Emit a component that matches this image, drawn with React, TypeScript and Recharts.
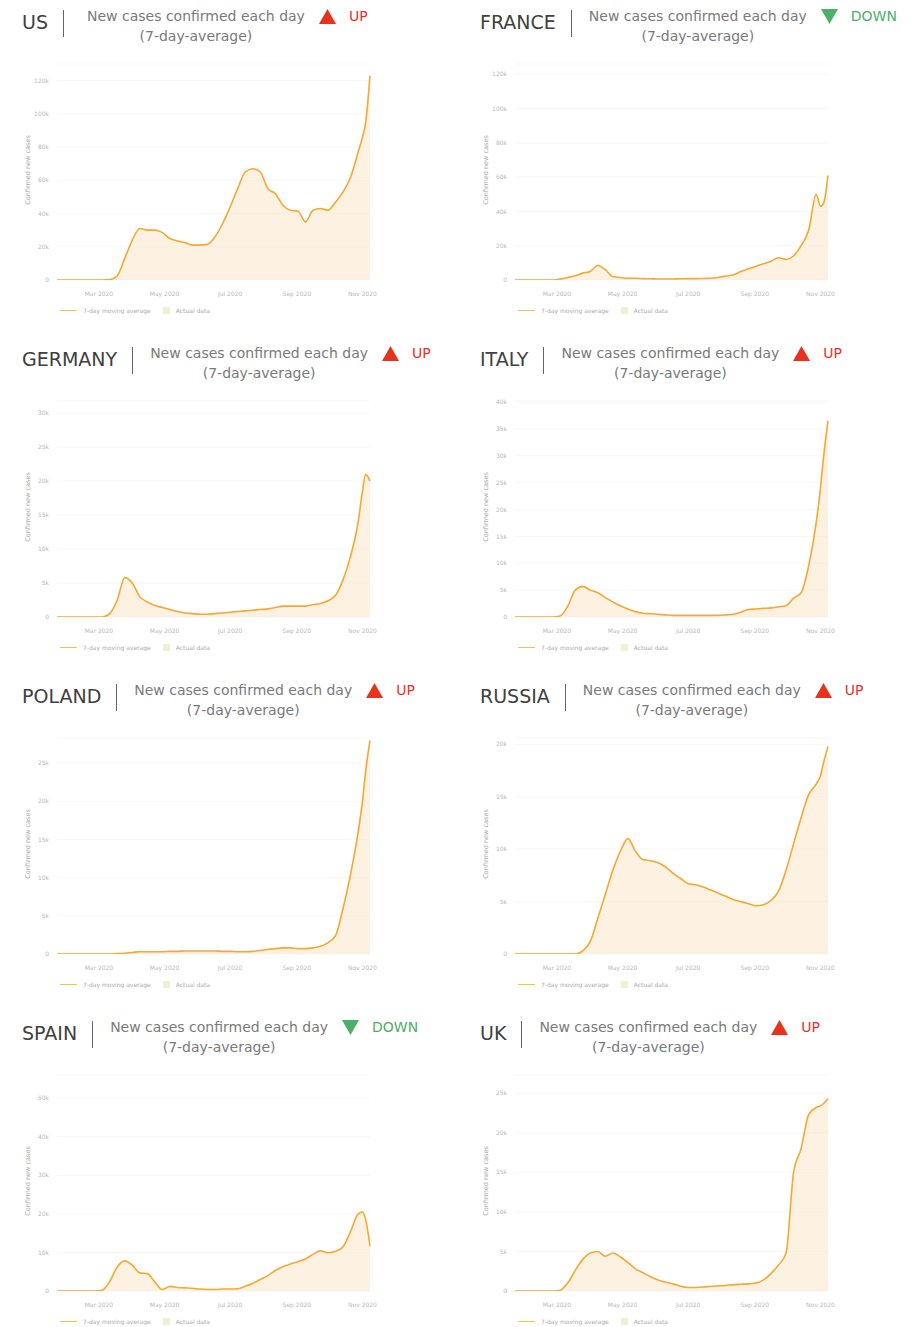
import { AreaChart, Area, XAxis, YAxis, CartesianGrid } from "recharts";

// day offsets from Jan 22 2020 (last point ~ Nov 8 2020)
const DAYS = [
  0, 7, 14, 21, 28, 35, 42, 49, 56, 63, 70, 77, 84, 91, 98, 105, 112, 119, 126, 133, 140,
  147, 154, 161, 168, 175, 182, 189, 196, 203, 210, 217, 224, 231, 238, 245, 252, 259, 266,
  273, 280, 284, 287, 291,
];
const MONTH_TICKS = [39, 100, 161, 223, 284];
const MONTH_LABELS = ["Mar 2020", "May 2020", "Jul 2020", "Sep 2020", "Nov 2020"];

// 7-day average of new cases, thousands
const US_CASES = [
  0, 0, 0, 0, 0, 0, 0, 0.3, 2.5, 13, 24, 31, 30, 30, 28.5, 25, 23.5, 22.5, 21, 21, 21.5, 26,
  34, 44, 55, 65, 67, 65, 55, 52, 45, 42, 41.5, 35, 42, 43, 42, 47, 53, 62, 77, 86, 95, 123,
];
const FRANCE_CASES = [
  0, 0, 0, 0, 0, 0, 0.5, 1.5, 2.5, 4, 5, 8.5, 6, 2, 1.5, 1, 1, 0.8, 0.7, 0.6, 0.6, 0.6, 0.7,
  0.8, 0.8, 0.9, 1, 1.5, 2.3, 3, 5, 6.5, 8, 9.5, 11, 13, 12, 14, 20, 29, 50, 43, 45, 61,
];
const GERMANY_CASES = [
  0, 0, 0, 0, 0, 0, 0, 0.5, 2.5, 5.8, 5, 3, 2.2, 1.7, 1.4, 1.1, 0.8, 0.6, 0.5, 0.4, 0.4,
  0.5, 0.6, 0.7, 0.8, 0.9, 1, 1.1, 1.2, 1.4, 1.6, 1.6, 1.6, 1.6, 1.8, 2, 2.4, 3.2, 5.5, 9, 14,
  18.5, 21, 20,
];
const ITALY_CASES = [
  0, 0, 0, 0, 0, 0, 0.2, 2, 5, 5.7, 5, 4.5, 3.6, 2.8, 2.1, 1.5, 1, 0.7, 0.6, 0.5, 0.4, 0.3,
  0.3, 0.3, 0.3, 0.3, 0.3, 0.3, 0.4, 0.5, 0.9, 1.4, 1.5, 1.6, 1.7, 1.9, 2.1, 3.5, 4.5, 9.5,
  17.5, 24, 30, 36.5,
];
const POLAND_CASES = [
  0, 0, 0, 0, 0, 0, 0, 0, 0.05, 0.1, 0.2, 0.3, 0.3, 0.3, 0.3, 0.35, 0.35, 0.4, 0.4, 0.4, 0.4,
  0.4, 0.35, 0.35, 0.3, 0.3, 0.35, 0.45, 0.6, 0.7, 0.8, 0.8, 0.7, 0.7, 0.8, 1, 1.5, 2.4, 6,
  10.5, 16, 20, 24, 28,
];
const RUSSIA_CASES = [
  0, 0, 0, 0, 0, 0, 0, 0, 0, 0.3, 1.2, 3.4, 5.7, 8, 9.8, 11, 9.8, 9, 8.9, 8.7, 8.3, 7.7, 7.2,
  6.7, 6.6, 6.4, 6.1, 5.8, 5.5, 5.2, 5, 4.8, 4.6, 4.7, 5.1, 6, 8, 10.5, 13, 15.2, 16.2, 17,
  18.3, 19.8,
];
const SPAIN_CASES = [
  0, 0, 0, 0, 0, 0, 0.2, 2.5, 6.2, 7.8, 6.7, 4.7, 4.5, 2.3, 0.4, 1.2, 0.9, 0.8, 0.7, 0.5, 0.4,
  0.4, 0.5, 0.5, 0.6, 1.2, 2, 3, 4, 5.3, 6.3, 7, 7.6, 8.3, 9.5, 10.4, 9.9, 10.3, 11.5, 15.5,
  20, 20.5, 18.5, 11.6,
];
const UK_CASES = [
  0, 0, 0, 0, 0, 0, 0.1, 1, 2.6, 4, 4.8, 5, 4.4, 4.8, 4.3, 3.6, 2.8, 2.3, 1.8, 1.4, 1.1, 0.9,
  0.6, 0.45, 0.45, 0.5, 0.6, 0.65, 0.7, 0.8, 0.85, 0.9, 1, 1.4, 2.2, 3.3, 4.8, 15, 18, 22.3,
  23.2, 23.4, 23.7, 24.3,
];

const TICKS_120 = [0, 20, 40, 60, 80, 100, 120];
const TICKS_GERMANY = [0, 5, 10, 15, 20, 25, 30];
const TICKS_ITALY = [0, 5, 10, 15, 20, 25, 30, 35, 40];
const TICKS_25 = [0, 5, 10, 15, 20, 25];
const TICKS_RUSSIA = [0, 5, 10, 15, 20];
const TICKS_SPAIN = [0, 10, 20, 30, 40, 50];

const PANELS = [
  { country: "US", trend: "UP", values: US_CASES, ticks: TICKS_120, top: 130 },
  { country: "FRANCE", trend: "DOWN", values: FRANCE_CASES, ticks: TICKS_120, top: 126 },
  { country: "GERMANY", trend: "UP", values: GERMANY_CASES, ticks: TICKS_GERMANY, top: 31.8 },
  { country: "ITALY", trend: "UP", values: ITALY_CASES, ticks: TICKS_ITALY, top: 40.2 },
  { country: "POLAND", trend: "UP", values: POLAND_CASES, ticks: TICKS_25, top: 28.3 },
  { country: "RUSSIA", trend: "UP", values: RUSSIA_CASES, ticks: TICKS_RUSSIA, top: 20.6 },
  { country: "SPAIN", trend: "DOWN", values: SPAIN_CASES, ticks: TICKS_SPAIN, top: 56 },
  { country: "UK", trend: "UP", values: UK_CASES, ticks: TICKS_25, top: 27.3 },
];

const FONT = "'DejaVu Sans', Verdana, sans-serif";
const RED = "#e8321e";
const GREEN = "#4caf6a";
const LINE = "#f7a733";
const TICK = { fontSize: 6, fill: "#b8b8b8", fontFamily: FONT };

function Header({ country, trend }: { country: string; trend: string }) {
  const up = trend === "UP";
  const color = up ? RED : GREEN;
  // the US header sits a little wider in the original
  const subGap = country === "US" ? 23 : 17;
  return (
    <div style={{ position: "absolute", left: 22, top: 6, display: "flex", alignItems: "flex-start" }}>
      <div style={{ fontSize: 19, color: "#404040", lineHeight: "24px", marginTop: 4 }}>{country}</div>
      <div style={{ width: 1, height: 27, background: "#666", marginLeft: 15, marginTop: 4 }} />
      <div style={{ marginLeft: subGap, textAlign: "center", fontSize: 14, color: "#7a7a7a", lineHeight: "20px" }}>
        <div>New cases confirmed each day</div>
        <div>(7-day-average)</div>
      </div>
      <svg width={17} height={15} style={{ marginLeft: 14, marginTop: 3 }}>
        <polygon points={up ? "8.5,0 17,15 0,15" : "0,0 17,0 8.5,15"} fill={color} />
      </svg>
      <div style={{ marginLeft: 13, fontSize: 14, color, lineHeight: "20px" }}>{trend}</div>
    </div>
  );
}

function Panel({ index }: { index: number }) {
  const p = PANELS[index];
  const data = DAYS.map((d, i) => ({ day: d, avg: p.values[i] }));
  const col = index % 2;
  const row = Math.floor(index / 2);
  return (
    <div style={{ position: "absolute", left: col * 458, top: row * 337, width: 460, height: 337 }}>
      <Header country={p.country} trend={p.trend} />
      <div
        style={{
          position: "absolute",
          left: -12,
          top: 166,
          width: 80,
          textAlign: "center",
          fontSize: 6.5,
          color: "#a8a8a8",
          transform: "rotate(-90deg)",
        }}
      >
        Confirmed new cases
      </div>
      <div style={{ position: "absolute", left: 20, top: 50 }}>
        <AreaChart width={370} height={250} data={data} margin={{ top: 14, right: 20, bottom: 0, left: 2 }}>
          <CartesianGrid stroke="#f7f7f7" vertical={false} />
          <XAxis
            dataKey="day"
            type="number"
            domain={[0, 291]}
            ticks={MONTH_TICKS}
            tickFormatter={(v: number) => MONTH_LABELS[MONTH_TICKS.indexOf(v)]}
            axisLine={false}
            tickLine={false}
            tick={TICK}
            height={20}
            tickMargin={6}
          />
          <YAxis
            type="number"
            domain={[0, p.top]}
            ticks={p.ticks}
            allowDataOverflow
            tickFormatter={(v: number) => (v === 0 ? "0" : `${v}k`)}
            axisLine={false}
            tickLine={false}
            tick={TICK}
            width={35}
          />
          <Area
            type="monotone"
            dataKey="avg"
            stroke={LINE}
            strokeWidth={1.6}
            fill="#fbe6cb"
            fillOpacity={0.55}
            isAnimationActive={false}
            dot={false}
          />
        </AreaChart>
      </div>
      <div
        style={{
          position: "absolute",
          left: 60,
          top: 307,
          display: "flex",
          alignItems: "center",
          fontSize: 6,
          color: "#aaa",
        }}
      >
        <span style={{ width: 17, height: 1.5, background: "#f5c24a", marginRight: 6 }} />
        <span>7-day moving average</span>
        <span style={{ width: 7, height: 7, background: "#eef1d2", marginLeft: 12, marginRight: 6 }} />
        <span>Actual data</span>
      </div>
    </div>
  );
}

export default function App() {
  return (
    <div
      style={{
        position: "absolute",
        left: 0,
        top: 0,
        width: 922,
        height: 1327,
        background: "#fff",
        fontFamily: FONT,
      }}
    >
      {PANELS.map((_, i) => (
        <Panel key={i} index={i} />
      ))}
    </div>
  );
}
